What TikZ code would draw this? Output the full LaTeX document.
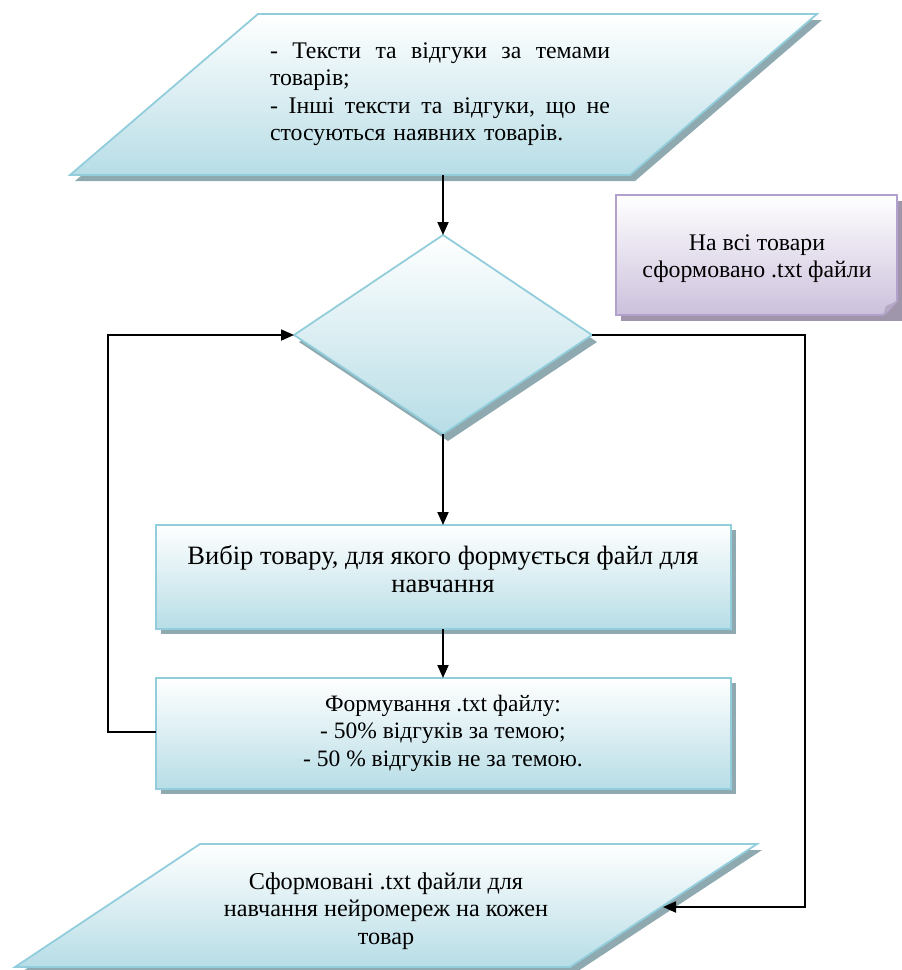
\documentclass[tikz,border=0pt]{standalone}
\usepackage{fontspec}
\setmainfont{Liberation Serif}
\usetikzlibrary{arrows.meta}
\definecolor{tealline}{RGB}{146,205,220}
\definecolor{tealfill}{RGB}{183,221,230}
\definecolor{tealshadow}{RGB}{142,170,176}
\definecolor{lilline}{RGB}{178,161,204}
\definecolor{lilfill}{RGB}{204,192,220}
\definecolor{lilshadow}{RGB}{160,150,172}
\definecolor{lilfold}{RGB}{180,168,196}
\tikzset{
  shapeshadow/.style={fill=tealshadow},
  tealbox/.style={top color=white, bottom color=tealfill, draw=tealline, line width=1.8pt, line join=miter},
  lilshade/.style={fill=lilshadow},
  lilbox/.style={top color=white, bottom color=lilfill, draw=lilline, line width=1.8pt},
  flow/.style={draw=black, line width=1.8pt, -{Triangle[length=13pt,width=11pt]}},
  label/.style={inner sep=0pt, align=center}
}
\begin{document}
\begin{tikzpicture}[x=1pt,y=-1pt]
\useasboundingbox (0,0) rectangle (902,970);

% input parallelogram
\fill[shapeshadow, shift={(5,6)}] (258,14) -- (817,14) -- (630,175) -- (70,175) -- cycle;
\path[tealbox] (258,14) -- (817,14) -- (630,175) -- (70,175) -- cycle;
\node[inner sep=0pt, text width=340pt, align=left, font=\fontsize{23.8}{27.5}\selectfont] (src) at (440,94)
  {\makebox[340pt][s]{-\hfill Тексти\hfill та\hfill відгуки\hfill за\hfill темами}\\товарів;\\\makebox[340pt][s]{-\hfill Інші\hfill тексти\hfill та\hfill відгуки,\hfill що\hfill не}\\стосуються наявних товарів.};
\coordinate (srcB) at (443,175);

% decision diamond
\fill[shapeshadow, shift={(5,7)}] (443,235) -- (592,335) -- (443,434) -- (294,335) -- cycle;
\path[tealbox] (443,235) -- (592,335) -- (443,434) -- (294,335) -- cycle;
\coordinate (dT) at (443,235);
\coordinate (dB) at (443,434);
\coordinate (dL) at (294,335);
\coordinate (dR) at (592,335);

% note with curled corner
\fill[lilshade, shift={(5,6)}] (616,195) -- (897,195) -- (897,315) -- (616,315) -- cycle;
\path[lilbox] (616,195) -- (897,195) -- (897,301) .. controls (892,306) and (888,312) .. (883,315) -- (616,315) -- cycle;
\fill[lilfold] (897,301) .. controls (892,306) and (888,312) .. (883,315) -- (886,306) -- cycle;
\node[label, font=\fontsize{23.8}{27}\selectfont] (note) at (757,259) {На всі товари\\сформовано .txt файли};

% product selection
\fill[shapeshadow, shift={(5,5)}] (156,525) rectangle (731,629);
\path[tealbox] (156,525) rectangle (731,629);
\node[label, font=\fontsize{26.5}{27.5}\selectfont] (pick) at (443,569) {Вибір товару, для якого формується файл для\\навчання};
\coordinate (pickT) at (443,525);
\coordinate (pickB) at (443,629);

% file forming
\fill[shapeshadow, shift={(5,5)}] (156,678) rectangle (731,789);
\path[tealbox] (156,678) rectangle (731,789);
\node[label, font=\fontsize{23.5}{27.5}\selectfont] (form) at (443,733) {Формування .txt файлу:\\- 50\% відгуків за темою;\\- 50 \% відгуків не за темою.};
\coordinate (formT) at (443,678);
\coordinate (formL) at (156,732);

% output parallelogram
\fill[shapeshadow, shift={(5,6)}] (200,844) -- (757,844) -- (570,967) -- (15,967) -- cycle;
\path[tealbox] (200,844) -- (757,844) -- (570,967) -- (15,967) -- cycle;
\node[label, font=\fontsize{24.2}{27.5}\selectfont] (out) at (386,911) {Сформовані .txt файли для\\навчання нейромереж на кожен\\товар};
\coordinate (outR) at (663,907);

% connectors
\coordinate (loopL) at (108,335);
\coordinate (exitR) at (805,907);
\draw[flow] (srcB) -- (dT);
\draw[flow] (dB) -- (pickT);
\draw[flow] (pickB) -- (formT);
\draw[flow] (formL) -| (loopL) -- (dL);
\draw[flow] (dR) -| (exitR) -- (outR);
\end{tikzpicture}
\end{document}
